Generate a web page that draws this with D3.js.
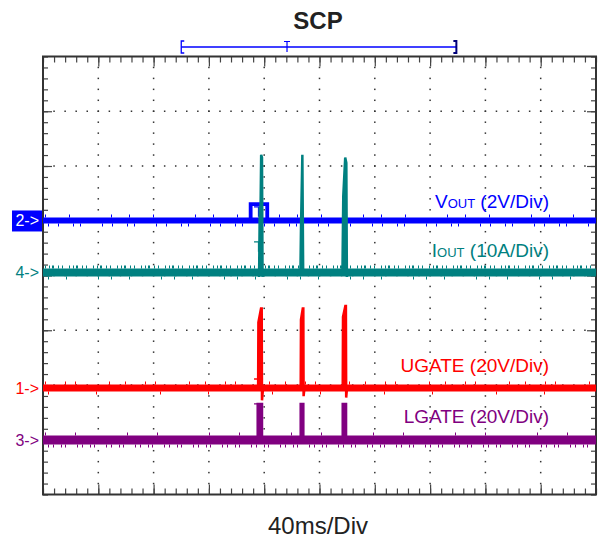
<!DOCTYPE html>
<html>
<head>
<meta charset="utf-8">
<script src="https://cdn.jsdelivr.net/npm/d3@7"></script>
<style>
body { margin: 0; background: #fff; }
text { font-family: "Liberation Sans", Arial, sans-serif; }
</style>
</head>
<body>
<script>
// ---- data (time in ms, values in channel units) ----
var channelIds = ['2', '4', '1', '3'];
var channelNames = ['V', 'I', 'UGATE', 'LGATE'];
var channelSubs = ['OUT', 'OUT', '', ''];
var channelScales = ['(2V/Div)', '(10A/Div)', '(20V/Div)', '(20V/Div)'];
var unitsPerDiv = [2, 10, 20, 20];
var offsetDiv = [1.005, 0.055, -2.055, -3.005];

var voutTrace = [[0, 0], [150.2, 0], [150.2, 0.6], [162.2, 0.6], [162.2, 0], [400, 0]];
var ioutTrace = [[0, 0], [155.8, 0], [156.3, -0.8], [156.8, 12], [157.2, 8], [157.8, 21.5], [158.4, 21], [158.8, -0.8], [159.2, 0],
    [186.2, 0], [186.6, 8], [187.6, 21.5], [188.2, -0.5], [188.6, 0],
    [216.6, 0], [217.2, 14], [218.6, 21], [219.4, 20], [219.8, -0.8], [220.2, 0], [400, 0]];
var ugateTrace = [[0, 0], [155.6, 0], [155.8, 24], [157.7, 29], [158.2, 29], [158.4, -4.5], [159.2, 0],
    [186.4, 0], [186.6, 25], [187.9, 29], [188.3, 29], [188.5, -3], [189.1, 0],
    [216.8, 0], [217, 26], [218.7, 30], [219.1, 30], [219.3, -3.5], [219.9, 0], [400, 0]];
var lgateTrace = [[0, 0], [155.3, 0], [155.3, 13.2], [158.4, 13.2], [158.4, 0],
    [186.4, 0], [186.4, 13.2], [188.3, 13.2], [188.3, 0],
    [216.8, 0], [216.8, 13.2], [219.2, 13.2], [219.2, 0], [400, 0]];
var traces = [voutTrace, ioutTrace, ugateTrace, lgateTrace];
// trigger "T" marks at the first pulse, level in channel units
var triggerMarkTime = [155.9, 155.9, 155.9, 155.9];
var triggerMarkLevel = [0.5, 5.6, 3.3, 13.2];

var timeDomain = [0, 400];       // 10 div x 40 ms
var divDomain = [-4, 4];          // 8 vertical divisions
var recordWindow = [100, 299];    // record bar at the top
var triggerTime = [176.5];

// ---- styles ----
var colors = ['#0000ff', '#008080', '#ff0000', '#800080'];
var bandWidth = [6, 8, 7, 9];
var spikeWidth = [3.8, 2.5, 2.5, 2.5];
var fillPulse = [false, true, true, true];
var labelBaseline = [208, 257, 372, 423];
var noiseUp = ['1,23,1,41,1,17', '1,3,1,2,2,4,1,3,1,6', '1,19,1,9,1,33,1,15', '1,29,1,51'];
var noiseDown = ['1,9,1,14,1,6,1,21', '1,17,1,31,1,12', '1,47,1,63', '1,4,1,7,1,3,1,11'];

var svg = d3.select("body")
    .append("svg")
    .attr("width", "601")
    .attr("height", "540")
    .style('display', 'block');

var plot = {left: 43, right: 596, top: 56.5, bottom: 494.5};

var x = d3.scaleLinear().domain(timeDomain).range([plot.left, plot.right]);
var y = d3.scaleLinear().domain(divDomain).range([plot.bottom, plot.top]);

//grid dots along the major lines
var minorT = d3.range(timeDomain[0], timeDomain[1] + 0.1, 8);
var minorD = d3.range(divDomain[0], divDomain[1] + 0.01, 0.2);
var majorT = d3.range(40, 400, 40);
var majorD = d3.range(-3, 4, 1);

var grid = svg.append('g').attr('fill', '#333');
majorT.forEach(function (t) {
    grid.selectAll(null)
        .data(minorD.slice(1, -1))
        .enter()
        .append('rect')
        .attr('x', x(t) - 0.75)
        .attr('y', function (d) { return y(d) - 0.75; })
        .attr('width', 1.5)
        .attr('height', 1.5);
});
majorD.forEach(function (dv) {
    grid.selectAll(null)
        .data(minorT.slice(1, -1))
        .enter()
        .append('rect')
        .attr('x', function (d) { return x(d) - 0.75; })
        .attr('y', y(dv) - 0.75)
        .attr('width', 1.5)
        .attr('height', 1.5);
});

//frame ticks, pointing inward
function tickAxis(axis, tr, vals, size) {
    var g = svg.append('g')
        .attr('transform', tr)
        .call(axis.tickValues(vals).tickSize(size).tickFormat(''));
    g.select('.domain').remove();
    g.selectAll('line').attr('stroke', '#444').attr('stroke-width', 1.2);
}
tickAxis(d3.axisTop(x), 'translate(0,' + plot.top + ')', minorT, -6);
tickAxis(d3.axisTop(x), 'translate(0,' + plot.top + ')', majorT, -10);
tickAxis(d3.axisBottom(x), 'translate(0,' + plot.bottom + ')', minorT, -6);
tickAxis(d3.axisBottom(x), 'translate(0,' + plot.bottom + ')', majorT, -10);
tickAxis(d3.axisLeft(y), 'translate(' + plot.left + ',0)', minorD, -5);
tickAxis(d3.axisLeft(y), 'translate(' + plot.left + ',0)', majorD, -9);
tickAxis(d3.axisRight(y), 'translate(' + plot.right + ',0)', minorD, -5);
tickAxis(d3.axisRight(y), 'translate(' + plot.right + ',0)', majorD, -9);

svg.append('rect')
    .attr('x', plot.left)
    .attr('y', plot.top)
    .attr('width', plot.right - plot.left)
    .attr('height', plot.bottom - plot.top)
    .attr('fill', 'none')
    .attr('stroke', '#333')
    .attr('stroke-width', 2);

//traces
var traceG = svg.append('g');
traces.forEach(function (data, i) {
    var yv = function (v) { return y(offsetDiv[i] + v / unitsPerDiv[i]); };
    var line = d3.line()
        .x(function (d) { return x(d[0]); })
        .y(function (d) { return yv(d[1]); });
    var base = yv(0);
    // noise band on the baseline
    traceG.append('line')
        .attr('x1', x(timeDomain[0])).attr('x2', x(timeDomain[1]))
        .attr('y1', base).attr('y2', base)
        .attr('stroke', colors[i])
        .attr('stroke-width', bandWidth[i]);
    traceG.append('line')
        .attr('x1', x(timeDomain[0]) + 2).attr('x2', x(timeDomain[1]))
        .attr('y1', base - bandWidth[i] / 2 - 1.5).attr('y2', base - bandWidth[i] / 2 - 1.5)
        .attr('stroke', colors[i])
        .attr('stroke-width', 3)
        .attr('stroke-dasharray', noiseUp[i]);
    traceG.append('line')
        .attr('x1', x(timeDomain[0]) + 5).attr('x2', x(timeDomain[1]))
        .attr('y1', base + bandWidth[i] / 2 + 1.5).attr('y2', base + bandWidth[i] / 2 + 1.5)
        .attr('stroke', colors[i])
        .attr('stroke-width', 3)
        .attr('stroke-dasharray', noiseDown[i]);
    traceG.append('path')
        .attr('d', line(data))
        .attr('fill', fillPulse[i] ? colors[i] : 'none')
        .attr('stroke', colors[i])
        .attr('stroke-width', spikeWidth[i])
        .attr('stroke-linejoin', 'miter');
    // trigger T mark
    var tx = x(triggerMarkTime[i]), ty = yv(triggerMarkLevel[i]);
    traceG.append('path')
        .attr('d', 'M' + (tx - 4.5) + ',' + ty + 'H' + (tx + 4.5) + 'M' + tx + ',' + ty + 'V' + (ty + 10))
        .attr('fill', 'none')
        .attr('stroke', colors[i])
        .attr('stroke-width', 1.3);
});

//labels on the right
channelNames.forEach(function (name, i) {
    var t = svg.append('text')
        .attr('x', 549)
        .attr('y', labelBaseline[i])
        .attr('text-anchor', 'end')
        .attr('fill', colors[i])
        .style('font-size', '19px');
    t.append('tspan').text(name);
    if (channelSubs[i]) t.append('tspan').style('font-size', '13px').text(channelSubs[i]);
    t.append('tspan').text(' ' + channelScales[i]);
});

//channel markers on the left
channelIds.forEach(function (id, i) {
    var cy = y(offsetDiv[i]);
    if (i === 0) {
        svg.append('rect')
            .attr('x', 12).attr('y', cy - 10)
            .attr('width', 30).attr('height', 21)
            .attr('fill', colors[i]);
    }
    svg.append('text')
        .attr('x', 39)
        .attr('y', cy + 6)
        .attr('text-anchor', 'end')
        .attr('fill', i === 0 ? '#fff' : colors[i])
        .style('font-size', '16px')
        .text(id + '->');
});

//record bar
var barY = 47;
svg.append('line')
    .attr('x1', x(recordWindow[0])).attr('x2', x(recordWindow[1]))
    .attr('y1', barY).attr('y2', barY)
    .attr('stroke', '#0000ff').attr('stroke-width', 1.5);
svg.append('path')
    .attr('d', 'M' + (x(recordWindow[0]) + 3) + ',41H' + x(recordWindow[0]) + 'V53H' + (x(recordWindow[0]) + 3))
    .attr('fill', 'none').attr('stroke', '#0000ff').attr('stroke-width', 1.3);
svg.append('path')
    .attr('d', 'M' + (x(recordWindow[1]) - 3) + ',41H' + x(recordWindow[1]) + 'V53H' + (x(recordWindow[1]) - 3))
    .attr('fill', 'none').attr('stroke', '#00007a').attr('stroke-width', 2);
svg.append('path')
    .attr('d', 'M' + (x(triggerTime[0]) - 3) + ',41.5H' + (x(triggerTime[0]) + 3) + 'M' + x(triggerTime[0]) + ',41.5V52')
    .attr('fill', 'none').attr('stroke', '#0000ff').attr('stroke-width', 1.2);

//titles
svg.append('text')
    .attr('x', 318)
    .attr('y', 29)
    .attr('text-anchor', 'middle')
    .style('font-size', '24px')
    .style('font-weight', 'bold')
    .attr('fill', '#222')
    .text('SCP');

svg.append('text')
    .attr('x', 318)
    .attr('y', 534)
    .attr('text-anchor', 'middle')
    .style('font-size', '24px')
    .attr('fill', '#222')
    .text('40ms/Div');
</script>
</body>
</html>
